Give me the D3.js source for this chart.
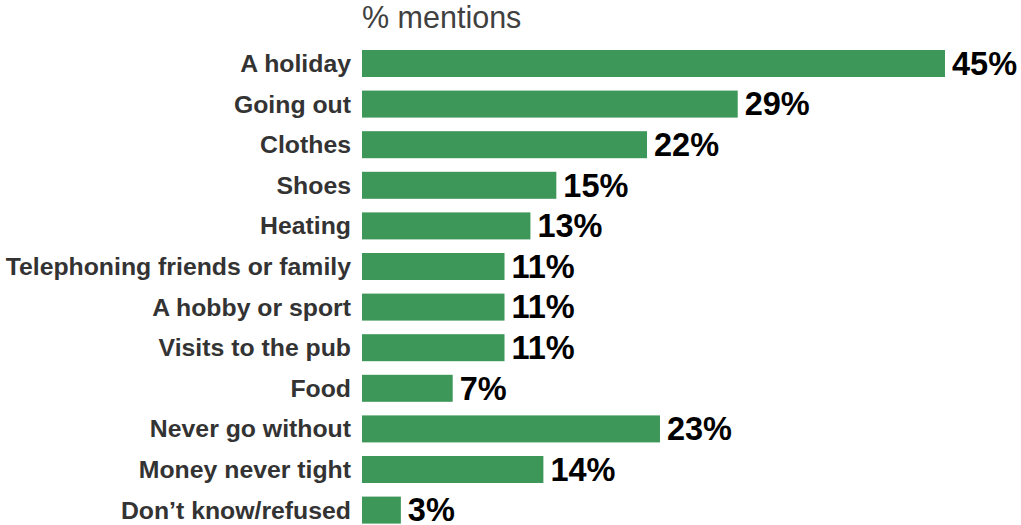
<!DOCTYPE html>
<html>
<head>
<meta charset="utf-8">
<script src="https://cdn.jsdelivr.net/npm/d3@7"></script>
<style>
  html, body { margin: 0; padding: 0; background: #ffffff; }
  svg { display: block; }
</style>
</head>
<body>
<svg id="chart" width="1021" height="525"></svg>
<script>
// Things people go without when money is tight (% mentions)
const categories = [
  "A holiday",
  "Going out",
  "Clothes",
  "Shoes",
  "Heating",
  "Telephoning friends or family",
  "A hobby or sport",
  "Visits to the pub",
  "Food",
  "Never go without",
  "Money never tight",
  "Don\u2019t know/refused"
];
const values = [45, 29, 22, 15, 13, 11, 11, 11, 7, 23, 14, 3];
const axisTitle = "% mentions";

const svg = d3.select("#chart");
const x0 = 362;

const x = d3.scaleLinear().domain([0, 45]).range([x0, 945]);
const y = d3.scaleBand()
  .domain(categories)
  .range([43.2, 43.2 + 12 * 40.6])
  .paddingInner(0.335)
  .paddingOuter(0.1675);

svg.append("text")
  .attr("x", 362)
  .attr("y", 28)
  .attr("font-family", "Liberation Sans, Arial, sans-serif")
  .attr("font-size", 30.5)
  .attr("fill", "#404040")
  .text(axisTitle);

const rows = svg.selectAll("g.row")
  .data(categories.map((c, i) => ({ c, v: values[i] })))
  .join("g")
  .attr("class", "row");

rows.append("rect")
  .attr("x", x(0))
  .attr("y", d => y(d.c))
  .attr("width", d => x(d.v) - x(0))
  .attr("height", y.bandwidth())
  .attr("fill", "#3c9758");

rows.append("text")
  .attr("x", 351)
  .attr("y", d => y(d.c) + y.bandwidth() / 2)
  .attr("dy", "0.34em")
  .attr("text-anchor", "end")
  .attr("font-family", "Liberation Sans, Arial, sans-serif")
  .attr("font-weight", "bold")
  .attr("font-size", 24.8)
  .attr("fill", "#333333")
  .text(d => d.c);

rows.append("text")
  .attr("x", d => x(d.v) + 7)
  .attr("y", d => y(d.c) + y.bandwidth() / 2)
  .attr("dy", "0.35em")
  .attr("font-family", "Liberation Sans, Arial, sans-serif")
  .attr("font-weight", "bold")
  .attr("font-size", 32.5)
  .attr("fill", "#000000")
  .text(d => d.v + "%");
</script>
</body>
</html>
